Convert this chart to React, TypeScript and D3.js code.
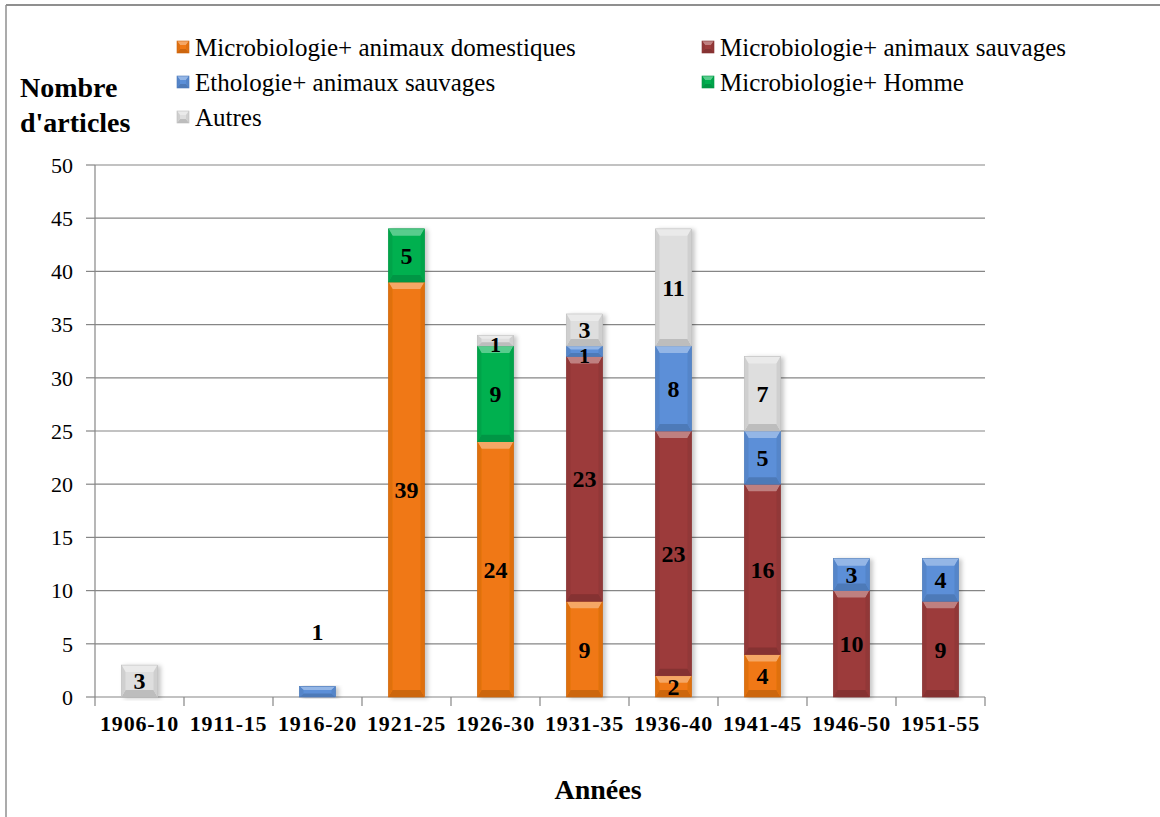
import React from 'react';
import * as d3 from 'd3';

const categories = ['1906-10', '1911-15', '1916-20', '1921-25', '1926-30', '1931-35', '1936-40', '1941-45', '1946-50', '1951-55'];
const seriesNames = [
  'Microbiologie+ animaux domestiques',
  'Microbiologie+ animaux sauvages',
  'Ethologie+ animaux sauvages',
  'Microbiologie+ Homme',
  'Autres',
];
const domestiques = [0, 0, 0, 39, 24, 9, 2, 4, 0, 0];
const sauvages = [0, 0, 0, 0, 0, 23, 23, 16, 10, 9];
const ethologie = [0, 0, 1, 0, 0, 1, 8, 5, 3, 4];
const homme = [0, 0, 0, 5, 9, 0, 0, 0, 0, 0];
const autres = [3, 0, 0, 0, 1, 3, 11, 7, 0, 0];
const yTicks = [0, 5, 10, 15, 20, 25, 30, 35, 40, 45, 50];

const seriesValues = [domestiques, sauvages, ethologie, homme, autres];
const seriesColors = ['#F07812', '#9C3B3B', '#5B8FD8', '#00B050', '#DEDEDE'];
const legendOrder = [0, 1, 2, 3, 4];

const W = 1160;
const H = 817;
const plot = { left: 95, right: 985, top: 165, bottom: 697 };
const FONT = "'Times New Roman', Times, 'Liberation Serif', 'Noto Serif', 'DejaVu Serif', FreeSerif, Georgia, serif";
const tStyle = { fontFamily: FONT };

function Bevel({ x0, y0, x1, y1, color }: { x0: number; y0: number; x1: number; y1: number; color: string }) {
  const h = y1 - y0;
  const w = x1 - x0;
  const b = Math.min(7, h / 3);
  const s = Math.min(4, w / 4);
  const base = d3.color(color)!;
  const light = d3.interpolateRgb(color, '#ffffff')(0.35);
  const dark = base.darker(0.45).formatHex();
  const side = base.darker(0.2).formatHex();
  const pts = (arr: number[][]) => arr.map((p) => p.join(',')).join(' ');
  return (
    <g>
      <rect x={x0} y={y0} width={w} height={h} fill={color} />
      <polygon points={pts([[x0, y0], [x1, y0], [x1 - s, y0 + b], [x0 + s, y0 + b]])} fill={light} />
      <polygon points={pts([[x0, y1], [x1, y1], [x1 - s, y1 - b], [x0 + s, y1 - b]])} fill={dark} />
      <polygon points={pts([[x0, y0], [x0 + s, y0 + b], [x0 + s, y1 - b], [x0, y1]])} fill={side} />
      <polygon points={pts([[x1, y0], [x1 - s, y0 + b], [x1 - s, y1 - b], [x1, y1]])} fill={side} />
      <rect x={x0} y={y0} width={w} height={h} fill="none" stroke={dark} strokeWidth={0.6} />
    </g>
  );
}

export default function App() {
  const x = d3.scaleBand<string>().domain(categories).range([plot.left, plot.right]).paddingInner(0).paddingOuter(0);
  const y = d3.scaleLinear().domain([0, 50]).range([plot.bottom, plot.top]);
  const barW = 36;

  const table = categories.map((c, i) => {
    const row: any = { cat: c };
    seriesValues.forEach((vals, k) => (row['s' + k] = vals[i]));
    return row;
  });
  const stack = d3.stack<any>().keys(seriesValues.map((_, k) => 's' + k));
  const stacked = stack(table);

  const bars: any[] = [];
  categories.forEach((c, i) => {
    const segs: any[] = [];
    stacked.forEach((layer, k) => {
      const [v0, v1] = layer[i];
      if (v1 - v0 > 0) segs.push({ k, v0, v1, val: v1 - v0 });
    });
    bars.push({ c, i, segs });
  });

  const bandW = x.bandwidth();
  const boundaries = categories.map((c) => x(c)!).concat([plot.right]);

  return (
    <svg width={W} height={H} style={{ position: 'absolute', left: 0, top: 0, background: '#fff', fontFamily: FONT }}>
      <defs>
        <filter id="shadow" x="-30%" y="-10%" width="160%" height="120%">
          <feDropShadow dx="3" dy="1" stdDeviation="2" floodColor="#000" floodOpacity="0.22" />
        </filter>
      </defs>
      <rect x={0} y={0} width={W} height={H} fill="#fff" />
      <line x1={6} y1={5} x2={W} y2={5} stroke="#8f8f8f" strokeWidth={2} />
      <line x1={6} y1={5} x2={6} y2={H} stroke="#8f8f8f" strokeWidth={1.5} />

      {yTicks.map((t) => (
        <g key={t}>
          <line x1={plot.left} x2={plot.right} y1={y(t)} y2={y(t)} stroke="#868686" strokeWidth={1.2} />
          <line x1={plot.left - 9} x2={plot.left} y1={y(t)} y2={y(t)} stroke="#868686" strokeWidth={1.2} />
          <text x={73} y={y(t)} dy="0.35em" textAnchor="end" fontSize={22} fill="#000" style={tStyle}>
            {t}
          </text>
        </g>
      ))}
      <line x1={plot.left} x2={plot.left} y1={plot.top} y2={plot.bottom} stroke="#868686" strokeWidth={1.2} />
      {boundaries.map((bx, i) => (
        <line key={i} x1={bx} x2={bx} y1={plot.bottom} y2={plot.bottom + 9} stroke="#868686" strokeWidth={1.2} />
      ))}

      {bars.map((bar) => {
        const cx = x(bar.c)! + bandW / 2;
        return (
          <g key={bar.c} filter="url(#shadow)">
            {bar.segs.map((s: any) => (
              <Bevel key={s.k} x0={cx - barW / 2} x1={cx + barW / 2} y0={y(s.v1)} y1={y(s.v0)} color={seriesColors[s.k]} />
            ))}
          </g>
        );
      })}
      {bars.map((bar) => {
        const cx = x(bar.c)! + bandW / 2;
        return (
          <g key={'l' + bar.c}>
            {bar.segs.map((s: any) => {
              const outside = bar.segs.length === 1 && s.val <= 1;
              const small = !outside && s.val <= 1;
              const ly = outside ? y(s.v1 + 5.1) : y((s.v0 + s.v1) / 2) + (small ? 4 : 0);
              return (
                <text key={s.k} x={cx} y={ly} dy="0.35em" textAnchor="middle" fontSize={small ? 22 : 24} fontWeight="bold" fill="#000" style={tStyle}>
                  {s.val}
                </text>
              );
            })}
          </g>
        );
      })}

      {categories.map((c) => (
        <text key={c} x={x(c)! + bandW / 2} y={723} dy="0.35em" textAnchor="middle" fontSize={22} fontWeight="bold" fill="#000" letterSpacing={0.8} style={tStyle}>
          {c}
        </text>
      ))}

      <text x={598} y={789} dy="0.35em" textAnchor="middle" fontSize={28} fontWeight="bold" fill="#000" style={tStyle}>
        Années
      </text>
      <text x={20} y={87} dy="0.35em" fontSize={28} fontWeight="bold" fill="#000" style={tStyle}>
        Nombre
      </text>
      <text x={20} y={122} dy="0.35em" fontSize={28} fontWeight="bold" fill="#000" style={tStyle}>
        d'articles
      </text>

      {legendOrder.map((k, idx) => {
        const col = idx % 2;
        const row = Math.floor(idx / 2);
        const mx = col === 0 ? 177 : 702;
        const cy = 47 + row * 35;
        return (
          <g key={k}>
            <Bevel x0={mx} x1={mx + 12} y0={cy - 6} y1={cy + 6} color={seriesColors[k]} />
            <text x={mx + 18} y={cy} dy="0.35em" fontSize={25} fill="#000" style={tStyle}>
              {seriesNames[k]}
            </text>
          </g>
        );
      })}
    </svg>
  );
}
